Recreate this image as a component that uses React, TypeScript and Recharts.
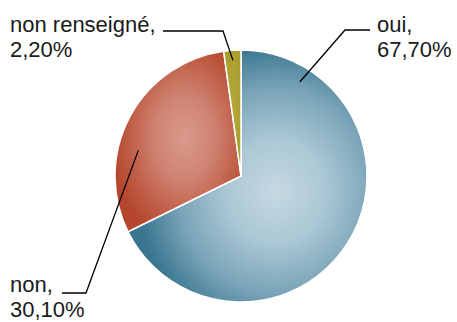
import React from 'react';
import { PieChart, Pie, Cell } from 'recharts';

const categories = ['oui', 'non', 'non renseigné'];
const shares = [67.7, 30.1, 2.2];
const shareLabels = ['67,70%', '30,10%', '2,20%'];

const data = categories.map((name, i) => ({ name, value: shares[i], label: shareLabels[i] }));

// gradient ids per slice
const fills = ['url(#gOui)', 'url(#gNon)', 'url(#gNr)'];

// leader line layout: inner end (angle deg, radius fraction), elbow and text anchor
const labelLayout = [
  { angle: 58, rf: 0.88, elbow: [345, 30], end: [370, 30], text: [377, 32] },
  { angle: 166, rf: 0.84, elbow: [86, 293], end: [62, 293], text: [10, 292] },
  { angle: 94, rf: 0.92, elbow: [223, 31], end: [163, 31], text: [10, 32] },
];

const renderLabel = (props: any) => {
  const { cx, cy, outerRadius, index } = props;
  const l = labelLayout[index];
  const a = (l.angle * Math.PI) / 180;
  const px = cx + outerRadius * l.rf * Math.cos(a);
  const py = cy - outerRadius * l.rf * Math.sin(a);
  const d = data[index];
  return (
    <g key={`lbl-${index}`}>
      <polyline
        points={`${px},${py} ${l.elbow[0]},${l.elbow[1]} ${l.end[0]},${l.end[1]}`}
        fill="none"
        stroke="#000"
        strokeWidth={1.3}
      />
      <text
        x={l.text[0]}
        y={l.text[1]}
        textAnchor="start"
        fontFamily="Liberation Sans, Arial, sans-serif"
        fontSize={22}
        fill="#1a1a1a"
      >
        <tspan x={l.text[0]}>{d.name},</tspan>
        <tspan x={l.text[0]} dy={25}>{d.label}</tspan>
      </text>
    </g>
  );
};

export default function App() {
  return (
    <div style={{ position: 'absolute', left: 0, top: 0, background: '#fff' }}>
      <PieChart width={457} height={322} margin={{ top: 0, right: 0, bottom: 0, left: 0 }}>
        <defs>
          <radialGradient id="gOui" cx="0.62" cy="0.56" r="0.58">
            <stop offset="0%" stopColor="#c6d9e2" />
            <stop offset="35%" stopColor="#abc8d5" />
            <stop offset="70%" stopColor="#7aa4b8" />
            <stop offset="100%" stopColor="#397690" />
          </radialGradient>
          <radialGradient id="gNon" cx="0.55" cy="0.48" r="0.58">
            <stop offset="0%" stopColor="#d99a8b" />
            <stop offset="40%" stopColor="#cf8372" />
            <stop offset="75%" stopColor="#c05e47" />
            <stop offset="100%" stopColor="#b4462d" />
          </radialGradient>
          <radialGradient id="gNr" cx="0.5" cy="0.5" r="0.6">
            <stop offset="0%" stopColor="#b6aa3a" />
            <stop offset="100%" stopColor="#a89c2c" />
          </radialGradient>
        </defs>
        <Pie
          data={data}
          dataKey="value"
          nameKey="name"
          cx={241}
          cy={176}
          outerRadius={126}
          startAngle={90}
          endAngle={-270}
          stroke="#fff"
          strokeWidth={1.5}
          label={renderLabel}
          labelLine={false}
          isAnimationActive={false}
        >
          {data.map((d, i) => (
            <Cell key={d.name} fill={fills[i]} />
          ))}
        </Pie>
      </PieChart>
    </div>
  );
}
